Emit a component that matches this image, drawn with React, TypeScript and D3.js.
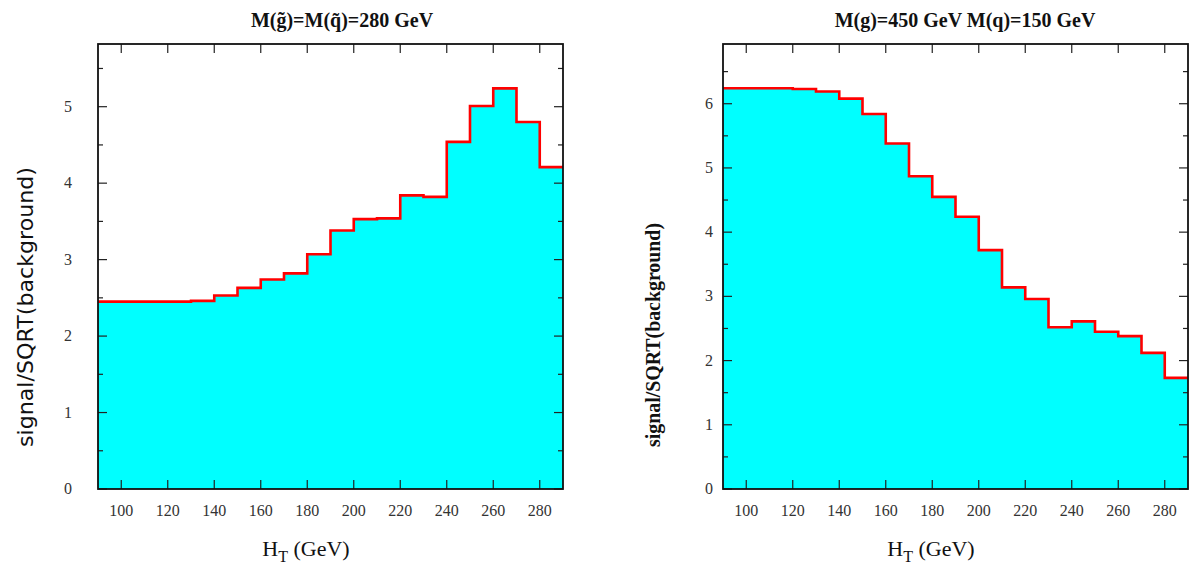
import React from "react";
import * as d3 from "d3";

const binEdges = [90, 100, 110, 120, 130, 140, 150, 160, 170, 180, 190, 200, 210, 220, 230, 240, 250, 260, 270, 280, 290];
const leftValues = [2.45, 2.45, 2.45, 2.45, 2.46, 2.53, 2.63, 2.74, 2.82, 3.07, 3.38, 3.53, 3.54, 3.84, 3.82, 4.54, 5.01, 5.24, 4.80, 4.21];
const rightValues = [6.24, 6.24, 6.24, 6.23, 6.19, 6.08, 5.84, 5.38, 4.87, 4.55, 4.24, 3.72, 3.14, 2.96, 2.52, 2.61, 2.45, 2.38, 2.12, 1.73];
const xTicks = [100, 120, 140, 160, 180, 200, 220, 240, 260, 280];
const leftYTicks = [0, 1, 2, 3, 4, 5];
const rightYTicks = [0, 1, 2, 3, 4, 5, 6];

type PanelProps = {
  x0: number; x1: number; y0: number; y1: number;
  ymax: number; values: number[]; yTicks: number[];
  title: React.ReactNode; titleX: number;
  yLabel: string; yLabelX: number; yLabelY: number; yLabelStyle: any; yLabelLen: number;
  tickLabelGap: number; xTitleX: number;
};

function Panel(p: PanelProps) {
  const x = d3.scaleLinear().domain([90, 290]).range([p.x0, p.x1]);
  const y = d3.scaleLinear().domain([0, p.ymax]).range([p.y1, p.y0]);
  const pts: [number, number][] = binEdges.map((e, i) => [e, p.values[Math.min(i, p.values.length - 1)]]);
  const area = d3.area<[number, number]>().x(d => x(d[0])).y0(y(0)).y1(d => y(d[1])).curve(d3.curveStepAfter);
  const line = d3.line<[number, number]>().x(d => x(d[0])).y(d => y(d[1])).curve(d3.curveStepAfter);
  const minor: number[] = [];
  for (let v = 0.5; v < p.ymax; v += 1) minor.push(v);
  const tc = "#222";
  return (
    <g>
      <path d={area(pts) || ""} fill="#00ffff" />
      <path d={line(pts) || ""} fill="none" stroke="#ff0000" strokeWidth={2.6} />
      {xTicks.map(t => (
        <g key={"xt" + t}>
          <line x1={x(t)} x2={x(t)} y1={p.y1} y2={p.y1 - 9} stroke={tc} strokeWidth={1.2} />
          <line x1={x(t)} x2={x(t)} y1={p.y0} y2={p.y0 + 9} stroke={tc} strokeWidth={1.2} />
          <text x={x(t)} y={p.y1 + 27} textAnchor="middle" fontFamily="Liberation Serif" fontSize={16} fill="#333">{t}</text>
        </g>
      ))}
      {p.yTicks.map(t => (
        <g key={"yt" + t}>
          <line x1={p.x0} x2={p.x0 + 9} y1={y(t)} y2={y(t)} stroke={tc} strokeWidth={1.2} />
          <line x1={p.x1} x2={p.x1 - 9} y1={y(t)} y2={y(t)} stroke={tc} strokeWidth={1.2} />
          <text x={p.x0 - p.tickLabelGap} y={y(t) + 5} textAnchor="end" fontFamily="Liberation Serif" fontSize={16} fill="#333">{t}</text>
        </g>
      ))}
      {minor.map(t => (
        <g key={"ym" + t}>
          <line x1={p.x0} x2={p.x0 + 5} y1={y(t)} y2={y(t)} stroke={tc} strokeWidth={1.2} />
          <line x1={p.x1} x2={p.x1 - 5} y1={y(t)} y2={y(t)} stroke={tc} strokeWidth={1.2} />
        </g>
      ))}
      <rect x={p.x0} y={p.y0} width={p.x1 - p.x0} height={p.y1 - p.y0} fill="none" stroke="#111" strokeWidth={1.8} />
      <text x={p.titleX} y={27} textAnchor="middle" fontFamily="Liberation Serif" fontWeight="bold" fontSize={20} fill="#111">{p.title}</text>
      <text x={p.xTitleX} y={556} textAnchor="middle" fontFamily="Liberation Serif" fontSize={22} fill="#111">
        H<tspan fontSize={16} dy={6}>T</tspan><tspan dy={-6}> (GeV)</tspan>
      </text>
      <text transform={`translate(${p.yLabelX},${p.yLabelY}) rotate(-90)`} textAnchor="middle" fill="#111"
        textLength={p.yLabelLen} lengthAdjust="spacingAndGlyphs" style={p.yLabelStyle}>{p.yLabel}</text>
    </g>
  );
}

export default function App() {
  return (
    <svg width={1192} height={569} style={{ position: "absolute", left: 0, top: 0, background: "#fff" }}>
      <rect width={1192} height={569} fill="#fff" />
      <Panel x0={98} x1={563} y0={44} y1={489} ymax={5.82} values={leftValues} yTicks={leftYTicks}
        title={"M(g\u0303)=M(q\u0303)=280 GeV"} titleX={342}
        yLabel="signal/SQRT(background)" yLabelX={33} yLabelY={307} yLabelLen={280}
        yLabelStyle={{ fontFamily: "DejaVu Sans", fontSize: 22 }}
        tickLabelGap={26} xTitleX={306} />
      <Panel x0={723} x1={1188} y0={44} y1={489} ymax={6.93} values={rightValues} yTicks={rightYTicks}
        title={"M(g)=450 GeV M(q)=150 GeV"} titleX={965}
        yLabel="signal/SQRT(background)" yLabelX={660} yLabelY={335} yLabelLen={224}
        yLabelStyle={{ fontFamily: "Liberation Serif", fontWeight: "bold", fontSize: 20 }}
        tickLabelGap={10} xTitleX={931} />
    </svg>
  );
}
